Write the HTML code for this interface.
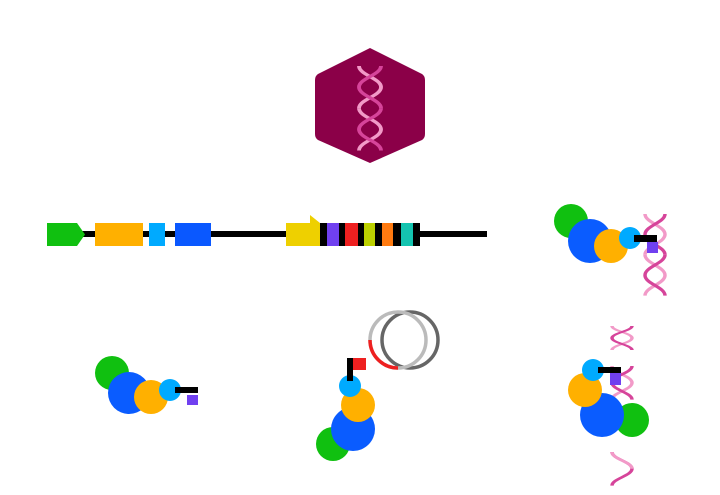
<!DOCTYPE html>
<html><head><style>body{margin:0;background:#fff}svg{display:block}</style></head><body>
<svg width="720" height="495" viewBox="0 0 720 495" xmlns="http://www.w3.org/2000/svg">
<defs>
<g id="hx">
<path d="M0,0 C0,10 20,14 20,24 C20,34 0,38 0,48" fill="none" stroke="#f29ac8" stroke-width="3.5"/>
<path d="M20,0 C20,10 0,14 0,24 C0,34 20,38 20,48" fill="none" stroke="#d6449a" stroke-width="3.5"/>
</g>
</defs>
<!-- hexagon -->
<path d="M370,48 L422,74 Q425,76 425,80 L425,134 Q425,138 422,140 L370,163 L318,140 Q315,138 315,134 L315,80 Q315,76 318,74 Z" fill="#8b0048"/>
<g transform="translate(359,66) scale(1.1,0.88)"><use href="#hx"/><use href="#hx" y="48"/></g>
<!-- gene line -->
<rect x="47" y="231" width="440" height="6" fill="#000"/>
<polygon points="47,223 77,223 85,234.5 77,246 47,246" fill="#10c010"/>
<rect x="95" y="223" width="48" height="23" fill="#ffb000"/>
<rect x="149" y="223" width="16" height="23" fill="#00aaff"/>
<rect x="175" y="223" width="36" height="23" fill="#0a58ff"/>
<polygon points="286,223 310,223 310,215 320,223 320,246 286,246" fill="#eed000"/>
<rect x="320" y="223" width="100" height="23" fill="#000"/>
<rect x="327" y="223" width="12" height="23" fill="#7040f0"/>
<rect x="345" y="223" width="13" height="23" fill="#ee2020"/>
<rect x="364" y="223" width="11" height="23" fill="#bcd000"/>
<rect x="382" y="223" width="11" height="23" fill="#ff7a10"/>
<rect x="401" y="223" width="12" height="23" fill="#14c4b0"/>
<!-- group top right -->
<g transform="translate(645,214) scale(1,0.85)"><use href="#hx"/><use href="#hx" y="48"/></g>
<circle cx="571" cy="221" r="17" fill="#10c010"/>
<circle cx="590" cy="241" r="22" fill="#0a5cff"/>
<circle cx="611" cy="246" r="17" fill="#ffb000"/>
<circle cx="630" cy="238" r="11" fill="#00aaff"/>
<rect x="634" y="235" width="23" height="7" fill="#000"/>
<rect x="647" y="242" width="11" height="11" fill="#7040f0"/>
<!-- group 1 -->
<circle cx="112" cy="373" r="17" fill="#10c010"/>
<circle cx="129" cy="393" r="21" fill="#0a5cff"/>
<circle cx="151" cy="397" r="17" fill="#ffb000"/>
<circle cx="170" cy="390" r="11" fill="#00aaff"/>
<rect x="175" y="387" width="23" height="6" fill="#000"/>
<rect x="187" y="395" width="11" height="10" fill="#7040f0"/>
<!-- group 3 -->
<circle cx="410" cy="340" r="28" fill="none" stroke="#666" stroke-width="3.5"/>
<circle cx="398" cy="340" r="28" fill="none" stroke="#bbb" stroke-width="3.5"/>
<path d="M370,340 A28,28 0 0 0 398,368" fill="none" stroke="#ee2020" stroke-width="3.5"/>
<rect x="347" y="358" width="6" height="23" fill="#000"/>
<rect x="353" y="358" width="13" height="12" fill="#ee2020"/>
<circle cx="333" cy="444" r="17" fill="#10c010"/>
<circle cx="353" cy="429" r="22" fill="#0a5cff"/>
<circle cx="358" cy="405" r="17" fill="#ffb000"/>
<circle cx="350" cy="386" r="11" fill="#00aaff"/>
<rect x="347" y="363" width="6" height="18" fill="#000"/>
<!-- group 4 -->
<g transform="translate(612,326) scale(1,0.5)"><use href="#hx"/></g>
<g transform="translate(612,366) scale(1,0.7)"><use href="#hx"/></g>
<g transform="translate(612,452) scale(1,0.7)"><path d="M0,0 C0,10 20,14 20,24 C20,34 0,38 0,48" fill="none" stroke="#d6449a" stroke-width="3.5"/><path d="M20,24 C20,14 0,10 0,0" fill="none" stroke="#f29ac8" stroke-width="3.5"/></g>
<circle cx="632" cy="420" r="17" fill="#10c010"/>
<circle cx="602" cy="415" r="22" fill="#0a5cff"/>
<circle cx="585" cy="390" r="17" fill="#ffb000"/>
<circle cx="593" cy="370" r="11" fill="#00aaff"/>
<rect x="598" y="367" width="23" height="6" fill="#000"/>
<rect x="610" y="373" width="11" height="12" fill="#7040f0"/>
</svg>
</body></html>
